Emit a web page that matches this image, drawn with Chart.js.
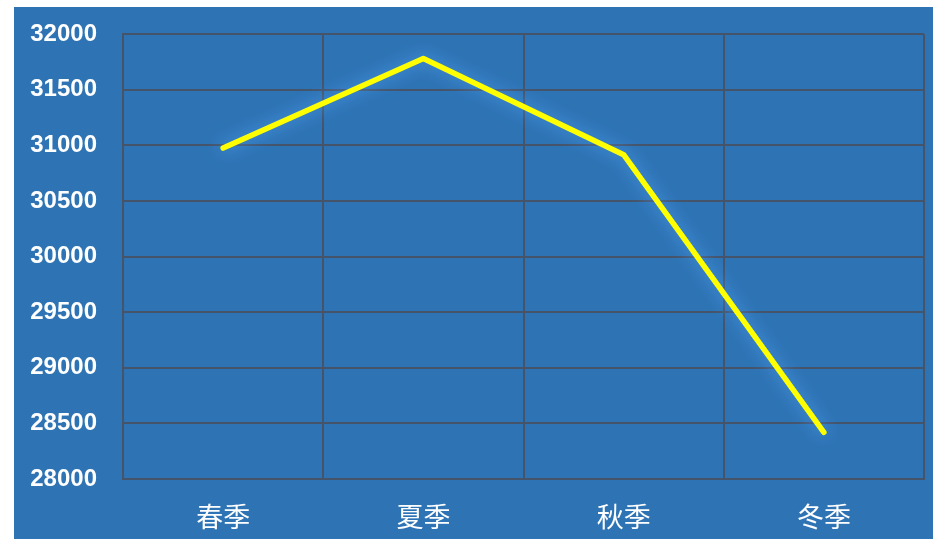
<!DOCTYPE html>
<html>
<head>
<meta charset="utf-8">
<script src="https://cdn.jsdelivr.net/npm/chart.js@4/dist/chart.umd.min.js"></script>
<style>
  html, body { margin: 0; padding: 0; background: #ffffff; }
  #wrap {
    position: absolute;
    left: 14px; top: 7px;
    width: 919px; height: 532px;
    background: #2e74b5;
  }
</style>
</head>
<body>
<div id="wrap"><canvas id="seasonChart" width="919" height="532"></canvas></div>
<script>
// seasonal totals
var seasons = ['春季', '夏季', '秋季', '冬季'];
var totals = [30975, 31780, 30915, 28420];
var yMin = 28000;
var yMax = 32000;
var yStep = 500;

var gridColor = '#46546a';

// soft light glow under the line
var glowPlugin = {
    id: 'lineGlow',
    beforeDatasetDraw: function (chart) {
        var ctx = chart.ctx;
        ctx.save();
        ctx.shadowColor = 'rgba(90,170,255,0.8)';
        ctx.shadowBlur = 16;
    },
    afterDatasetDraw: function (chart) {
        chart.ctx.restore();
    }
};

var ctx = document.getElementById('seasonChart');
var chart = new Chart(ctx, {
    type: 'line',
    data: {
        labels: seasons,
        datasets: [{
            data: totals,
            borderColor: '#ffff00',
            borderWidth: 5.5,
            borderCapStyle: 'round',
            borderJoinStyle: 'round',
            pointRadius: 0,
            tension: 0,
            fill: false
        }]
    },
    options: {
        responsive: false,
        animation: false,
        layout: { padding: { top: 27, right: 9, left: 0, bottom: 0 } },
        plugins: {
            legend: { display: false },
            tooltip: { enabled: false }
        },
        scales: {
            x: {
                offset: true,
                grid: { offset: true, color: gridColor, lineWidth: 2, drawTicks: false },
                border: { color: gridColor, width: 2 },
                ticks: {
                    color: '#ffffff',
                    padding: 22,
                    font: { family: '"Noto Sans CJK SC", sans-serif', size: 27 }
                },
                afterFit: function (scale) { scale.height = 60; }
            },
            y: {
                min: yMin,
                max: yMax,
                grid: { color: gridColor, lineWidth: 2, drawTicks: false },
                border: { color: gridColor, width: 2 },
                ticks: {
                    stepSize: yStep,
                    color: '#ffffff',
                    padding: 26,
                    font: { family: '"Liberation Sans", Arial, sans-serif', size: 24, weight: 'bold' },
                    callback: function (v) { return String(v); }
                },
                afterFit: function (scale) {
                    scale.width = 109;
                    // tick padding is horizontal here, keep it out of the top/bottom space
                    scale.paddingTop = 0;
                    scale.paddingBottom = 0;
                }
            }
        }
    },
    plugins: [glowPlugin]
});
</script>
</body>
</html>
